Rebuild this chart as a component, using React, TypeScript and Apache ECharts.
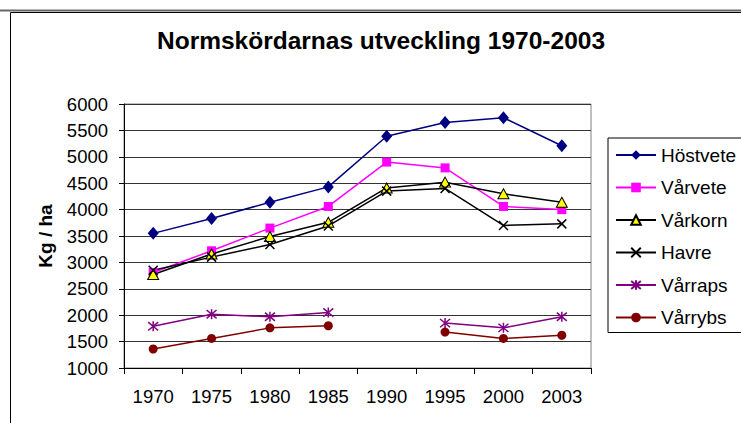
import React, { useEffect, useRef } from "react";
import * as echarts from "echarts";

const categories = ["1970", "1975", "1980", "1985", "1990", "1995", "2000", "2003"];
const hostvete = [3550, 3830, 4140, 4430, 5390, 5650, 5740, 5210];
const varvete = [2810, 3220, 3650, 4060, 4900, 4790, 4060, 4000];
const varkorn = [2770, 3160, 3490, 3760, 4410, 4520, 4300, 4140];
const havre = [2850, 3100, 3340, 3690, 4350, 4400, 3700, 3730];
const varraps = [1790, 2020, 1970, 2050, null, 1850, 1760, 1970];
const varrybs = [1360, 1560, 1760, 1800, null, 1680, 1560, 1620];
const yMin = 1000;
const yMax = 6000;
const yInterval = 500;
const titleText = "Normskördarnas utveckling 1970-2003";
const yName = "Kg / ha";

const FONT = '"Liberation Sans", Arial, sans-serif';

const X_PATH = "path://M0,0L10,10M10,0L0,10";
const STAR_PATH = "path://M0,0L10,10M10,0L0,10M5,-1L5,11";

function mk(
  name: string,
  data: (number | null)[],
  lineColor: string,
  symbol: string,
  size: number | number[],
  itemStyle: any
) {
  return {
    name,
    type: "line",
    data,
    symbol,
    symbolSize: size,
    connectNulls: false,
    lineStyle: { color: lineColor, width: 1.5 },
    itemStyle,
    emphasis: { disabled: true },
  };
}

export default function App() {
  const ref = useRef<HTMLDivElement>(null);
  useEffect(() => {
    const chart = echarts.init(ref.current!, null, { renderer: "svg" });
    chart.setOption({
      animation: false,
      backgroundColor: "#fff",
      textStyle: { fontFamily: FONT },
      graphic: [
        {
          type: "line",
          shape: { x1: 0, y1: 10.5, x2: 741, y2: 10.5 },
          style: { stroke: "#666", lineWidth: 2 },
          silent: true,
        },
        {
          type: "rect",
          shape: { x: 10.5, y: 12.5, width: 800, height: 500 },
          style: { fill: "none", stroke: "#000", lineWidth: 1 },
          silent: true,
        },
        {
          type: "text",
          x: 381,
          y: 40,
          style: {
            text: titleText,
            fontFamily: FONT,
            fontSize: 24.5,
            fontWeight: "bold",
            fill: "#000",
            textAlign: "center",
            textVerticalAlign: "middle",
          },
        },
      ],
      grid: {
        left: 124,
        top: 104,
        right: 150,
        bottom: 55,
        show: true,
        borderColor: "#808080",
        borderWidth: 1,
        backgroundColor: "transparent",
      },
      legend: {
        orient: "vertical",
        left: 608,
        top: 138,
        itemWidth: 40,
        itemHeight: 12,
        itemGap: 12.5,
        padding: [7, 30, 5, 7],
        borderColor: "#000",
        borderWidth: 1,
        backgroundColor: "#fff",
        textStyle: { fontFamily: FONT, fontSize: 19, color: "#000", lineHeight: 20 },
        data: ["Höstvete", "Vårvete", "Vårkorn", "Havre", "Vårraps", "Vårrybs"],
      },
      xAxis: {
        type: "category",
        data: categories,
        boundaryGap: true,
        axisLine: { lineStyle: { color: "#000", width: 1 } },
        axisTick: { show: true, length: 6, lineStyle: { color: "#000" } },
        axisLabel: { fontFamily: FONT, fontSize: 18.5, color: "#000", margin: 19 },
        splitLine: { show: false },
      },
      yAxis: {
        type: "value",
        min: yMin,
        max: yMax,
        interval: yInterval,
        name: yName,
        nameLocation: "middle",
        nameRotate: 90,
        nameGap: 69,
        nameTextStyle: { fontFamily: FONT, fontSize: 19, fontWeight: "bold", color: "#000" },
        axisLine: { show: true, lineStyle: { color: "#000", width: 1 } },
        axisTick: { show: true, length: 5, lineStyle: { color: "#000" } },
        axisLabel: {
          fontFamily: FONT,
          fontSize: 18.5,
          color: "#000",
          margin: 16,
          formatter: (v: number) => String(v),
        },
        splitLine: { show: true, lineStyle: { color: "#333", width: 1 } },
      },
      series: [
        mk("Höstvete", hostvete, "#000080", "diamond", [11, 13], { color: "#000080" }),
        mk("Vårvete", varvete, "#FF00FF", "rect", 9, { color: "#FF00FF" }),
        mk("Vårkorn", varkorn, "#000", "triangle", [11, 10], {
          color: "#FFFF00",
          borderColor: "#000",
          borderWidth: 1,
        }),
        mk("Havre", havre, "#000", X_PATH, 9, {
          color: "#000",
          borderColor: "#000",
          borderWidth: 1.5,
        }),
        mk("Vårraps", varraps, "#800080", STAR_PATH, 10, {
          color: "#800080",
          borderColor: "#800080",
          borderWidth: 1.5,
        }),
        mk("Vårrybs", varrybs, "#800000", "circle", 9, { color: "#800000" }),
      ],
    });
    return () => chart.dispose();
  }, []);
  return (
    <div
      ref={ref}
      style={{ position: "absolute", left: 0, top: 0, width: 741, height: 423, background: "#fff" }}
    />
  );
}
